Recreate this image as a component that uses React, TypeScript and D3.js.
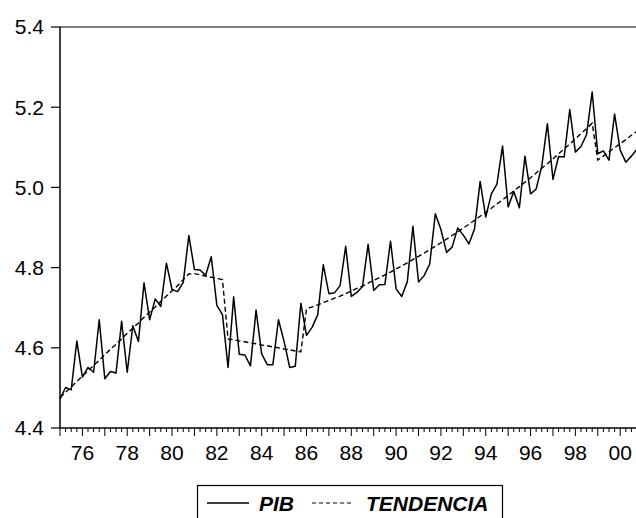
import React from "react";
import * as d3 from "d3";

// Quarterly observations, 1975Q1 .. 2000Q4
const startYear = 1975;
const periodsPerYear = 4;

const pib = [
  4.472, 4.501, 4.495, 4.617, 4.527, 4.551, 4.539, 4.670, 4.523, 4.541,
  4.537, 4.666, 4.539, 4.655, 4.616, 4.762, 4.670, 4.722, 4.703, 4.811,
  4.745, 4.740, 4.763, 4.880, 4.795, 4.794, 4.781, 4.827, 4.706, 4.683,
  4.551, 4.727, 4.584, 4.582, 4.555, 4.694, 4.585, 4.558, 4.558, 4.670,
  4.616, 4.551, 4.554, 4.711, 4.631, 4.651, 4.682, 4.807, 4.735, 4.737,
  4.755, 4.853, 4.728, 4.738, 4.753, 4.858, 4.743, 4.757, 4.758, 4.866,
  4.747, 4.728, 4.765, 4.903, 4.764, 4.780, 4.809, 4.934, 4.895, 4.838,
  4.851, 4.899, 4.881, 4.859, 4.897, 5.015, 4.926, 4.984, 5.008, 5.103,
  4.951, 4.990, 4.949, 5.078, 4.984, 4.996, 5.053, 5.159, 5.020, 5.077,
  5.076, 5.194, 5.088, 5.102, 5.132, 5.238, 5.084, 5.091, 5.068, 5.183,
  5.093, 5.063, 5.078, 5.095,
];

const tendencia = [
  4.476, 4.489, 4.502, 4.516, 4.529, 4.543, 4.556, 4.569, 4.583, 4.596,
  4.609, 4.622, 4.636, 4.649, 4.662, 4.676, 4.689, 4.702, 4.716, 4.729,
  4.742, 4.755, 4.770, 4.784, 4.785, 4.782, 4.779, 4.776, 4.773, 4.770,
  4.622, 4.620, 4.617, 4.615, 4.612, 4.610, 4.607, 4.605, 4.602, 4.600,
  4.597, 4.595, 4.592, 4.590, 4.697, 4.702, 4.707, 4.713, 4.718, 4.724,
  4.729, 4.735, 4.742, 4.748, 4.754, 4.761, 4.768, 4.775, 4.782, 4.789,
  4.797, 4.804, 4.812, 4.820, 4.828, 4.836, 4.845, 4.853, 4.862, 4.871,
  4.880, 4.889, 4.899, 4.908, 4.918, 4.928, 4.938, 4.948, 4.959, 4.969,
  4.980, 4.991, 5.002, 5.013, 5.024, 5.036, 5.048, 5.059, 5.071, 5.084,
  5.096, 5.108, 5.121, 5.134, 5.147, 5.160, 5.068, 5.078, 5.089, 5.099,
  5.109, 5.119, 5.130, 5.140,
];

const yTicks = [4.4, 4.6, 4.8, 5.0, 5.2, 5.4];
const labelYears = [1976, 1978, 1980, 1982, 1984, 1986, 1988, 1990, 1992, 1994, 1996, 1998, 2000];
const seriesNames = ["PIB", "TENDENCIA"];

const FONT = "'Liberation Sans', Arial, Helvetica, sans-serif";

export default function App() {
  const W = 636;
  const H = 518;
  const left = 60;
  const right = 637;
  const top = 27;
  const bottom = 428;

  const n = pib.length;
  const x = d3.scaleLinear().domain([0, n - 1]).range([left, right]);
  const y = d3.scaleLinear().domain([4.4, 5.4]).range([bottom, top]);

  const line = d3
    .line<number>()
    .x((_, i) => x(i))
    .y((d) => y(d));

  const quarterIdx = d3.range(0, n + 1);
  const fmt = d3.format(".1f");

  return (
    <svg
      width={W}
      height={H}
      style={{ position: "absolute", left: 0, top: 0, background: "#fff" }}
      fontFamily={FONT}
    >
      <rect x={0} y={0} width={W} height={H} fill="#fff" />
      {/* frame */}
      <line x1={left} x2={W + 5} y1={top} y2={top} stroke="#000" strokeWidth={1.2} />
      <line x1={left} x2={W + 5} y1={bottom} y2={bottom} stroke="#000" strokeWidth={1.5} />
      <line x1={left} x2={left} y1={top} y2={bottom} stroke="#000" strokeWidth={1.5} />

      {/* y ticks */}
      {yTicks.map((t) => (
        <g key={t}>
          <line x1={left - 9} x2={left} y1={y(t)} y2={y(t)} stroke="#000" strokeWidth={1.2} />
          <text x={left - 16} y={y(t)} dy="0.35em" textAnchor="end" fontSize={21} fill="#000">
            {fmt(t)}
          </text>
        </g>
      ))}

      {/* x ticks */}
      {quarterIdx.map((i) => {
        const xi = x(i);
        if (xi > W + 2) return null;
        const major = i % periodsPerYear === 0;
        return (
          <line
            key={i}
            x1={xi}
            x2={xi}
            y1={bottom}
            y2={bottom + (major ? 8 : 4)}
            stroke="#000"
            strokeWidth={1}
          />
        );
      })}
      {labelYears.map((yr) => {
        const i = (yr - startYear) * periodsPerYear;
        return (
          <text key={yr} x={x(i)} y={460} textAnchor="middle" fontSize={21} fill="#000">
            {String(yr).slice(2)}
          </text>
        );
      })}

      {/* series */}
      <path d={line(tendencia) || ""} fill="none" stroke="#000" strokeWidth={1.4} strokeDasharray="5,3" />
      <path d={line(pib) || ""} fill="none" stroke="#000" strokeWidth={1.5} strokeLinejoin="round" />

      {/* legend */}
      <rect x={197.5} y={485.5} width={305} height={50} fill="#fff" stroke="#000" strokeWidth={1.2} />
      <line x1={207} x2={249} y1={503} y2={503} stroke="#000" strokeWidth={1.4} />
      <text x={259} y={511} fontSize={21} fontWeight="bold" fontStyle="italic" fill="#000">
        {seriesNames[0]}
      </text>
      <line x1={312} x2={352} y1={503} y2={503} stroke="#000" strokeWidth={1.2} strokeDasharray="4,3" />
      <text x={366} y={511} fontSize={21} fontWeight="bold" fontStyle="italic" fill="#000">
        {seriesNames[1]}
      </text>
    </svg>
  );
}
